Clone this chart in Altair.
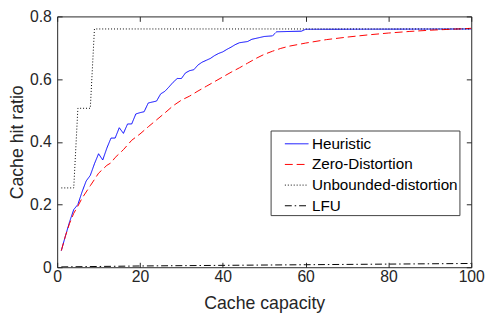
import altair as alt
import pandas as pd

series_names = ["Heuristic", "Zero-Distortion", "Unbounded-distortion", "LFU"]
series_colors = ["#0000ff", "#ff0000", "#000000", "#000000"]
series_dashes = [[1, 0], [8, 4], [1, 2], [7, 3, 1.5, 3]]

heur_x = [1, 2, 3, 4, 5, 6, 7, 8, 9, 10, 11, 12, 13, 14, 15, 16, 17, 18, 19, 20,
          21, 22, 23, 24, 25, 26, 27, 28, 29, 30, 31, 32, 33, 34, 35, 36, 37, 38,
          39, 40, 41, 42, 43, 44, 45, 46, 47, 48, 49, 50, 51, 52, 53, 59, 60, 100]
heur_y = [0.053, 0.10, 0.145, 0.184, 0.20, 0.24, 0.275, 0.293, 0.33, 0.362,
          0.342, 0.38, 0.412, 0.412, 0.445, 0.427, 0.457, 0.457, 0.489, 0.493,
          0.496, 0.524, 0.527, 0.530, 0.553, 0.561, 0.575, 0.590, 0.602, 0.602,
          0.620, 0.627, 0.630, 0.645, 0.654, 0.660, 0.666, 0.675, 0.682, 0.687,
          0.695, 0.702, 0.710, 0.716, 0.718, 0.720, 0.727, 0.730, 0.733, 0.736,
          0.737, 0.738, 0.751, 0.753, 0.759, 0.760]

zero_x = [1, 2, 3, 4, 5, 6, 7, 8, 10, 12, 13, 14, 16, 18, 20, 22, 24, 26, 28, 30,
          32, 34, 36, 38, 40, 42, 44, 46, 48, 50, 52, 54, 56, 60, 65, 70, 75, 80,
          85, 90, 95, 100]
zero_y = [0.053, 0.10, 0.14, 0.172, 0.195, 0.22, 0.24, 0.26, 0.30, 0.325, 0.333,
          0.35, 0.375, 0.405, 0.425, 0.448, 0.47, 0.492, 0.515, 0.533, 0.546,
          0.562, 0.577, 0.592, 0.607, 0.622, 0.636, 0.651, 0.666, 0.679, 0.689,
          0.698, 0.705, 0.715, 0.726, 0.734, 0.741, 0.747, 0.752, 0.756, 0.759,
          0.762]

unb_x = [1, 4, 5, 8, 9, 100]
unb_y = [0.253, 0.253, 0.507, 0.507, 0.760, 0.760]

lfu_x = [1, 20, 40, 60, 80, 100]
lfu_y = [0.001, 0.004, 0.006, 0.008, 0.010, 0.012]

x_ticks = [0, 20, 40, 60, 80, 100]
y_ticks = [0, 0.2, 0.4, 0.6, 0.8]

rows = []
for name, xs, ys in zip(series_names, [heur_x, zero_x, unb_x, lfu_x],
                        [heur_y, zero_y, unb_y, lfu_y]):
    for i, (a, b) in enumerate(zip(xs, ys)):
        rows.append({"series": name, "cap": a, "ratio": b, "order": i})
df = pd.DataFrame(rows)

W, H = 421, 255
FONT = "Liberation Sans"
TXT = "#262626"

xs = alt.Scale(domain=[0, 100], nice=False, zero=False)
ys = alt.Scale(domain=[0, 0.8], nice=False)

NB = "\u00a0"
legend_cfg = dict(
    title=None, orient="none", legendX=217, legendY=116,
    padding=1, strokeColor="#404040", fillColor="white",
    symbolType="stroke", symbolSize=576,
    symbolStrokeWidth=1, symbolOffset=13, labelOffset=3,
    labelFontSize=15.5, labelFont=FONT, labelColor="#000000",
    rowPadding=-4.6,
    labelExpr="datum.label + '" + NB * 3 + "'")

main = alt.Chart(df).mark_line(strokeWidth=1, clip=True).encode(
    x=alt.X("cap:Q", scale=xs, axis=alt.Axis(
        orient="bottom", values=x_ticks, ticks=False, domain=False, grid=False,
        labelFlush=False,
        labelFontSize=16, labelPadding=2, labelColor=TXT, labelFont=FONT,
        title="Cache capacity", titleFontSize=18, titleFont=FONT,
        titleFontWeight="normal", titleColor=TXT, titleBaseline="alphabetic",
        titleY=42, titleX=W / 2)),
    y=alt.Y("ratio:Q", scale=ys, axis=alt.Axis(
        orient="left", values=y_ticks, format=".1~f", ticks=False, domain=False,
        grid=False, labelFlush=False, labelFontSize=16, labelPadding=6,
        labelColor=TXT,
        labelFont=FONT, title="Cache hit ratio", titleFontSize=18,
        titleFont=FONT, titleFontWeight="normal", titleColor=TXT,
        titleBaseline="alphabetic", titleX=-35, titleY=H / 2, titleAngle=-90,
        titleAlign="center")),
    color=alt.Color("series:N", scale=alt.Scale(domain=series_names,
                                                range=series_colors),
                    legend=alt.Legend(**legend_cfg)),
    strokeDash=alt.StrokeDash("series:N", scale=alt.Scale(domain=series_names,
                                                          range=series_dashes),
                              legend=alt.Legend(**legend_cfg)),
    order="order:Q",
)

tick_common = dict(labels=False, domain=False, grid=False, title=None,
                   ticks=True, tickSize=5, tickColor=TXT, tickWidth=1)

ticks_a = alt.Chart(df).mark_line(opacity=0).encode(
    x=alt.X("cap:Q", scale=xs, axis=alt.Axis(orient="top", offset=-H,
                                             values=x_ticks, **tick_common)),
    y=alt.Y("ratio:Q", scale=ys, axis=alt.Axis(orient="right", offset=-W,
                                               values=y_ticks, **tick_common)),
    detail="series:N",
)
ticks_b = alt.Chart(df).mark_line(opacity=0).encode(
    x=alt.X("cap:Q", scale=xs, axis=alt.Axis(orient="bottom", offset=-H,
                                             values=x_ticks, **tick_common)),
    y=alt.Y("ratio:Q", scale=ys, axis=alt.Axis(orient="left", offset=-W,
                                               values=y_ticks, **tick_common)),
    detail="series:N",
)

chart = alt.layer(main, ticks_a, ticks_b).resolve_axis(
    x="independent", y="independent"
).properties(
    width=W, height=H,
    autosize=alt.AutoSizeParams(type="none"),
    padding={"left": 50, "top": 6, "right": 15, "bottom": 46},
    background="white",
).configure_view(stroke=TXT, strokeWidth=1)

chart.save("out.html", embed_options={"renderer": "svg", "actions": False})
